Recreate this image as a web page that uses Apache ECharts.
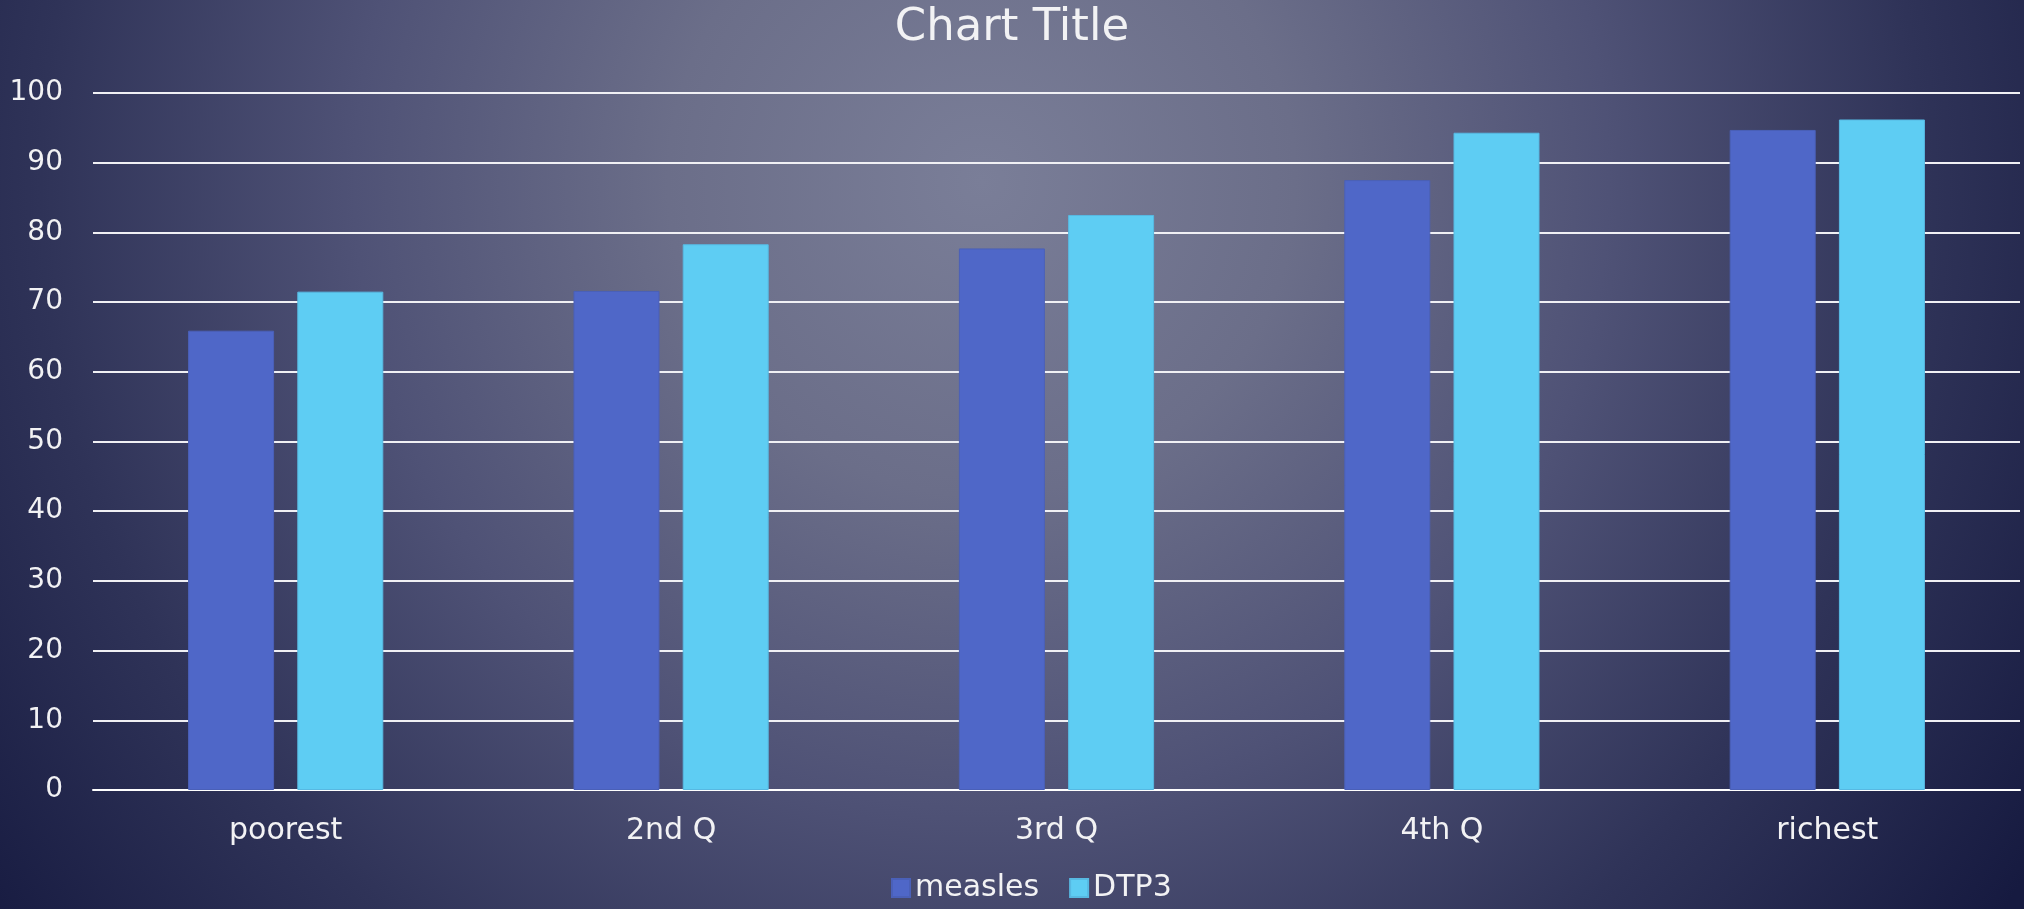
<!DOCTYPE html>
<html>
<head>
<meta charset="utf-8">
<script src="https://cdn.jsdelivr.net/npm/echarts@6/dist/echarts.min.js"></script>
<style>
  html, body { margin: 0; padding: 0; }
  #chart { width: 2024px; height: 909px; }
</style>
</head>
<body>
<div id="chart"></div>
<script>
const categories = ['poorest', '2nd Q', '3rd Q', '4th Q', 'richest'];
const measles = [65.9, 71.6, 77.7, 87.5, 94.7];
const dtp3 = [71.5, 78.3, 82.5, 94.3, 96.2];
const yTicks = { min: 0, max: 100, interval: 10 };

const FONT = '"DejaVu Sans", "Noto Sans", sans-serif';
const TXT = '#f2f2f4';

const chart = echarts.init(document.getElementById('chart'));
chart.setOption({
  backgroundColor: {
    type: 'radial', x: 0.485, y: 0.2, r: 1.38,
    colorStops: [
      { offset: 0, color: '#7a7e98' },
      { offset: 0.25, color: '#6b6e89' },
      { offset: 0.5, color: '#4f5276' },
      { offset: 0.75, color: '#2f3358' },
      { offset: 1, color: '#161a40' }
    ]
  },
  animation: false,
  title: {
    text: 'Chart Title', left: 'center', top: 1,
    textStyle: { color: TXT, fontFamily: FONT, fontSize: 45, fontWeight: 'normal' }
  },
  legend: {
    bottom: 1, left: 886,
    itemWidth: 18, itemHeight: 18, itemGap: 30,
    icon: 'rect',
    textStyle: { color: TXT, fontFamily: FONT, fontSize: 30 },
    data: ['measles', 'DTP3']
  },
  grid: { left: 93, right: 4, top: 93, bottom: 119, containLabel: false },
  xAxis: {
    type: 'category', data: categories,
    axisLine: { show: true, lineStyle: { color: '#ffffff', width: 2 } },
    axisTick: { show: false },
    axisLabel: { color: TXT, fontFamily: FONT, fontSize: 30, margin: 26 }
  },
  yAxis: {
    type: 'value', min: yTicks.min, max: yTicks.max, interval: yTicks.interval,
    axisLine: { show: false }, axisTick: { show: false },
    axisLabel: { color: TXT, fontFamily: FONT, fontSize: 28, margin: 30 },
    splitLine: { lineStyle: { color: '#f0f0f4', width: 2 } }
  },
  series: [
    { name: 'measles', type: 'bar', data: measles, barWidth: 86, barGap: '27%',
      itemStyle: { color: '#4f67c8', borderColor: '#4a60b8', borderWidth: 1 } },
    { name: 'DTP3', type: 'bar', data: dtp3, barWidth: 86,
      itemStyle: { color: '#5ecdf3', borderColor: '#57b9e2', borderWidth: 1 } }
  ]
});
</script>
</body>
</html>
